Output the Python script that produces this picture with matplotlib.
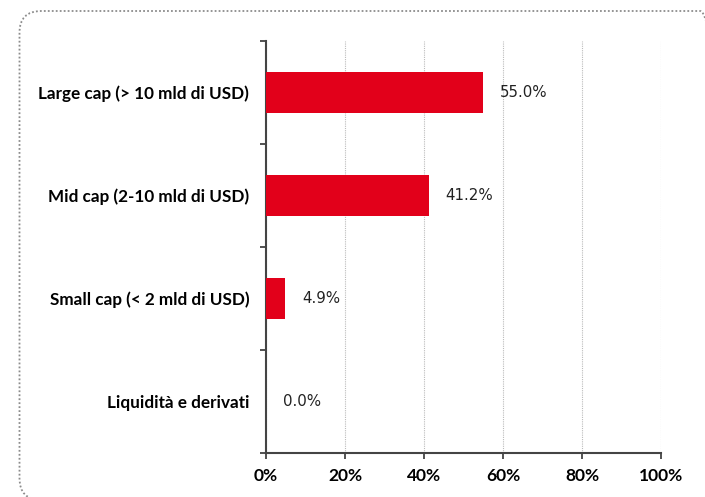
import matplotlib
matplotlib.use("Agg")
import matplotlib.pyplot as plt
from matplotlib.patches import FancyBboxPatch

categories = ["Large cap (> 10 mld di USD)", "Mid cap (2-10 mld di USD)",
              "Small cap (< 2 mld di USD)", "Liquidità e derivati"]
values = [55.0, 41.2, 4.9, 0.0]
xticks = [0, 20, 40, 60, 80, 100]
xticklabels = ["0%", "20%", "40%", "60%", "80%", "100%"]

RED = "#E2001A"
W, H = 705, 497
fig = plt.figure(figsize=(W / 100, H / 100), dpi=100)

# dotted rounded frame (partly outside the canvas)
frame = FancyBboxPatch((19.5 / W, -3 / H), (722 - 19.5) / W, (H - 11 + 3) / H,
                       boxstyle="round,pad=0,rounding_size=0.031",
                       transform=fig.transFigure, fill=False,
                       edgecolor="#8c8c8c", linewidth=1.3, linestyle=(0, (1, 1.2)),
                       mutation_aspect=W / H, clip_on=False)
fig.patches.append(frame)

ax = fig.add_axes([266 / W, (H - 453) / H, (661 - 266) / W, (453 - 41) / H])
n = len(categories)
ypos = list(range(n))
ax.barh(ypos, values, height=0.4, color=RED, zorder=3)
ax.set_ylim(n - 0.5, -0.5)
ax.set_xlim(0, 100)

for y, v in zip(ypos, values):
    ax.annotate(f"{v:.1f}%", xy=(v, y), xytext=(17, 0), textcoords="offset pixels",
                va="center", ha="left", fontsize=10.8, color="#222222",
                family="DejaVu Sans")

ax.set_xticks(xticks)
ax.set_xticklabels(xticklabels, fontsize=12.5, fontweight="bold", family="Lato")
ax.set_yticks([y - 0.5 for y in ypos] + [n - 0.5])
ax.set_yticklabels([])
ax.set_yticks(ypos, minor=True)
ax.set_yticklabels(categories, minor=True, fontsize=12.3, fontweight="bold", family="Lato")
ax.tick_params(axis="y", which="minor", length=0, pad=12)
ax.tick_params(axis="y", which="major", length=4, width=1.2, color="#333333", direction="out")
ax.tick_params(axis="x", length=4, width=1.2, color="#333333", pad=7)

ax.grid(axis="x", color="#bbbbbb", linestyle=(0, (1, 1)), linewidth=0.8, zorder=0)
for s in ["top", "right"]:
    ax.spines[s].set_visible(False)
for s in ["left", "bottom"]:
    ax.spines[s].set_color("#444444")
    ax.spines[s].set_linewidth(1.5)

fig.savefig("out.png", dpi=100)
